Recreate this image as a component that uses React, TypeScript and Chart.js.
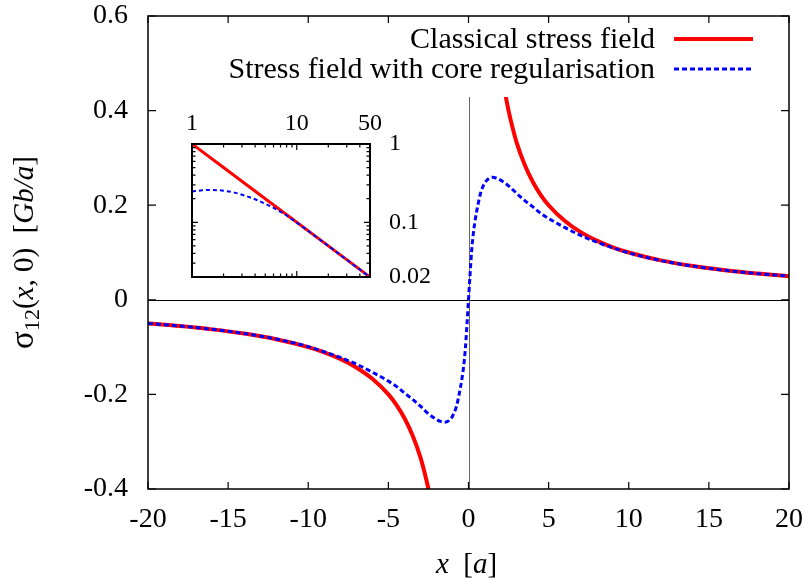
import React, { useEffect, useRef } from 'react';
import { Chart, registerables } from 'chart.js';

Chart.register(...registerables);

// ---------- data ----------
const xTicks = [-20, -15, -10, -5, 0, 5, 10, 15, 20];
const xTickLabels = ['-20', '-15', '-10', '-5', '0', '5', '10', '15', '20'];
const yTicks = [-0.4, -0.2, 0, 0.2, 0.4, 0.6];
const yTickLabels = ['-0.4', '-0.2', '0', '0.2', '0.4', '0.6'];

const classicalX = [-20, -18, -16, -14, -12, -10, -9, -8, -7, -6, -5, -4.5, -4, -3.5, -3, -2.75, -2.5, -2.25, 0,
  1.5, 1.75, 2, 2.25, 2.5, 2.75, 3, 3.5, 4, 4.5, 5, 6, 7, 8, 9, 10, 12, 14, 16, 18, 20];
const classicalY = [-0.05, -0.0556, -0.0625, -0.0714, -0.0833, -0.1, -0.111, -0.125, -0.143, -0.167, -0.2, -0.222, -0.25, -0.286, -0.333, -0.364, -0.4, -0.444, null,
  0.667, 0.571, 0.5, 0.444, 0.4, 0.364, 0.333, 0.286, 0.25, 0.222, 0.2, 0.167, 0.143, 0.125, 0.111, 0.1, 0.0833, 0.0714, 0.0625, 0.0556, 0.05];

const coreX = [-20, -18, -16, -14, -12, -10, -9, -8, -7, -6, -5, -4.5, -4, -3.5, -3, -2.5, -2, -1.75, -1.5, -1.25, -1, -0.75, -0.5, -0.4, -0.3, -0.2, -0.1, 0,
  0.1, 0.2, 0.3, 0.4, 0.5, 0.75, 1, 1.25, 1.5, 1.75, 2, 2.5, 3, 3.5, 4, 4.5, 5, 6, 7, 8, 9, 10, 12, 14, 16, 18, 20];
const coreY = [-0.05, -0.0555, -0.0624, -0.0712, -0.083, -0.099, -0.11, -0.122, -0.136, -0.153, -0.172, -0.183, -0.197, -0.21, -0.225, -0.241, -0.253, -0.257, -0.259, -0.256, -0.246, -0.225, -0.185, -0.165, -0.14, -0.105, -0.055, 0,
  0.055, 0.105, 0.14, 0.165, 0.185, 0.225, 0.246, 0.256, 0.259, 0.257, 0.253, 0.241, 0.225, 0.21, 0.197, 0.183, 0.172, 0.153, 0.136, 0.122, 0.11, 0.099, 0.083, 0.0712, 0.0624, 0.0555, 0.05];

const insetXTicks = [1, 10, 50];
const insetXTickLabels = ['1', '10', '50'];
const insetXMinor = [2, 3, 4, 5, 6, 7, 8, 9, 20, 30, 40];
const insetYTicks = [0.02, 0.1, 1];
const insetYTickLabels = ['0.02', '0.1', '1'];
const insetYMinor = [0.03, 0.04, 0.05, 0.06, 0.07, 0.08, 0.09, 0.2, 0.3, 0.4, 0.5, 0.6, 0.7, 0.8, 0.9];

const insetClassicalX = [1, 2, 5, 10, 20, 50];
const insetClassicalY = [1, 0.5, 0.2, 0.1, 0.05, 0.02];
const insetCoreX = [1, 1.25, 1.5, 1.75, 2, 2.5, 3, 3.5, 4, 5, 6, 7, 8, 10, 12, 14, 16, 20, 25, 30, 40, 50];
const insetCoreY = [0.247, 0.256, 0.259, 0.257, 0.253, 0.241, 0.225, 0.21, 0.197, 0.172, 0.153, 0.136, 0.122, 0.099, 0.083, 0.0712, 0.0624, 0.05, 0.0398, 0.0332, 0.0249, 0.0199];

const legendLabels = ['Classical stress field', 'Stress field with core regularisation'];

// ---------- style ----------
const SERIF = '"Liberation Serif", "Times New Roman", serif';
const RED = '#ff0000';
const BLUE = '#0000ff';

function zip(xs: number[], ys: (number | null)[]) {
  return xs.map((x, i) => ({ x, y: ys[i] }));
}

function noEdgePadding(s: any) {
  s.paddingTop = 0; s.paddingBottom = 0; s.paddingLeft = 0; s.paddingRight = 0;
}

type Run = { t: string; font: string; dy?: number };

function drawRuns(ctx: CanvasRenderingContext2D, runs: Run[], cx: number, baseline: number) {
  let total = 0;
  const widths = runs.map(r => { ctx.font = r.font; const w = ctx.measureText(r.t).width; total += w; return w; });
  let x = cx - total / 2;
  ctx.textAlign = 'left';
  ctx.textBaseline = 'alphabetic';
  runs.forEach((r, i) => {
    ctx.font = r.font;
    ctx.fillText(r.t, x, baseline + (r.dy || 0));
    x += widths[i];
  });
}

const mainDecor = {
  id: 'mainDecor',
  beforeDatasetsDraw(chart: any) {
    const { ctx, chartArea: a, scales } = chart;
    const x = scales.x, y = scales.y;
    ctx.save();
    ctx.lineWidth = 1;
    ctx.strokeStyle = '#000';
    const y0 = Math.round(y.getPixelForValue(0)) + 0.5;
    ctx.beginPath(); ctx.moveTo(a.left, y0); ctx.lineTo(a.right, y0); ctx.stroke();
    const x0 = Math.round(x.getPixelForValue(0)) + 0.5;
    ctx.strokeStyle = '#666';
    ctx.beginPath(); ctx.moveTo(x0, a.top); ctx.lineTo(x0, a.bottom); ctx.stroke();
    ctx.restore();
  },
  afterDatasetsDraw(chart: any) {
    const { ctx, chartArea: a, scales } = chart;
    const x = scales.x, y = scales.y;
    ctx.save();
    // legend box (opaque)
    ctx.fillStyle = '#fff';
    ctx.fillRect(220, a.top, a.right - 220, 97 - a.top);
    ctx.fillStyle = '#000';
    ctx.font = `30px ${SERIF}`;
    ctx.textAlign = 'right';
    ctx.textBaseline = 'alphabetic';
    ctx.fillText(legendLabels[0], 655, 48);
    ctx.fillText(legendLabels[1], 655, 78);
    ctx.lineWidth = 4; ctx.strokeStyle = RED; ctx.setLineDash([]);
    ctx.beginPath(); ctx.moveTo(674, 39); ctx.lineTo(753, 39); ctx.stroke();
    ctx.lineWidth = 3; ctx.strokeStyle = BLUE; ctx.setLineDash([5, 3]);
    ctx.beginPath(); ctx.moveTo(674, 69); ctx.lineTo(753, 69); ctx.stroke();
    ctx.setLineDash([]);

    // frame
    ctx.strokeStyle = '#000';
    ctx.lineWidth = 1.5;
    ctx.strokeRect(a.left, a.top, a.right - a.left, a.bottom - a.top);
    // ticks (inward, mirrored)
    ctx.lineWidth = 1.2;
    ctx.beginPath();
    xTicks.forEach(v => {
      const px = x.getPixelForValue(v);
      ctx.moveTo(px, a.bottom); ctx.lineTo(px, a.bottom - 7);
      ctx.moveTo(px, a.top); ctx.lineTo(px, a.top + 7);
    });
    yTicks.forEach(v => {
      const py = y.getPixelForValue(v);
      ctx.moveTo(a.left, py); ctx.lineTo(a.left + 8, py);
      ctx.moveTo(a.right, py); ctx.lineTo(a.right - 8, py);
    });
    ctx.stroke();

    // axis titles
    ctx.fillStyle = '#000';
    const reg = `29px ${SERIF}`;
    const ital = `italic 29px ${SERIF}`;
    drawRuns(ctx, [
      { t: 'x', font: ital },
      { t: '  [', font: reg },
      { t: 'a', font: ital },
      { t: ']', font: reg },
    ], (a.left + a.right) / 2 - 2, 573);

    ctx.save();
    ctx.translate(33, (a.top + a.bottom) / 2);
    ctx.rotate(-Math.PI / 2);
    drawRuns(ctx, [
      { t: 'σ', font: `33px ${SERIF}` },
      { t: '12', font: `22px ${SERIF}`, dy: 6 },
      { t: '(', font: reg },
      { t: 'x', font: ital },
      { t: ', 0)  [', font: reg },
      { t: 'Gb/a', font: ital },
      { t: ']', font: reg },
    ], 0, 0);
    ctx.restore();
    ctx.restore();
  },
};

const insetDecor = {
  id: 'insetDecor',
  afterDatasetsDraw(chart: any) {
    const { ctx, chartArea: a, scales } = chart;
    const x = scales.x, y = scales.y;
    ctx.save();
    ctx.strokeStyle = '#000';
    ctx.lineWidth = 2;
    ctx.strokeRect(a.left, a.top, a.right - a.left, a.bottom - a.top);
    ctx.lineWidth = 1.2;
    ctx.beginPath();
    const xt = (v: number, len: number) => {
      const px = x.getPixelForValue(v);
      ctx.moveTo(px, a.bottom); ctx.lineTo(px, a.bottom - len);
      ctx.moveTo(px, a.top); ctx.lineTo(px, a.top + len);
    };
    const yt = (v: number, len: number) => {
      const py = y.getPixelForValue(v);
      ctx.moveTo(a.left, py); ctx.lineTo(a.left + len, py);
      ctx.moveTo(a.right, py); ctx.lineTo(a.right - len, py);
    };
    insetXTicks.forEach(v => xt(v, 6));
    insetXMinor.forEach(v => xt(v, 3.5));
    insetYTicks.forEach(v => yt(v, 6));
    insetYMinor.forEach(v => yt(v, 3.5));
    ctx.stroke();
    ctx.restore();
  },
};

export default function App() {
  const mainRef = useRef<HTMLCanvasElement>(null);
  const insetRef = useRef<HTMLCanvasElement>(null);

  useEffect(() => {
    const tickFont = { family: SERIF, size: 28, lineHeight: 1 };
    const main = new Chart(mainRef.current as HTMLCanvasElement, {
      type: 'line',
      data: {
        datasets: [
          {
            label: legendLabels[0],
            data: zip(classicalX, classicalY) as any,
            borderColor: RED,
            borderWidth: 4,
            pointRadius: 0,
            spanGaps: false,
            cubicInterpolationMode: 'monotone',
            order: 2,
          },
          {
            label: legendLabels[1],
            data: zip(coreX, coreY) as any,
            borderColor: BLUE,
            borderWidth: 3,
            borderDash: [5, 3],
            pointRadius: 0,
            cubicInterpolationMode: 'monotone',
            order: 1,
          },
        ],
      },
      options: {
        responsive: false,
        animation: false,
        events: [],
        layout: { padding: { left: 0, right: 23, top: 16, bottom: 0 } },
        plugins: { legend: { display: false }, tooltip: { enabled: false } },
        scales: {
          x: {
            type: 'linear',
            min: -20,
            max: 20,
            afterBuildTicks: (s: any) => { s.ticks = xTicks.map(v => ({ value: v })); },
            afterFit: (s: any) => { s.height = 89; noEdgePadding(s); },
            ticks: {
              font: tickFont,
              color: '#000',
              padding: 17,
              maxRotation: 0,
              autoSkip: false,
              callback: (_v: any, i: number) => xTickLabels[i],
            },
            grid: { display: false, drawTicks: false },
            border: { display: false },
          },
          y: {
            type: 'linear',
            min: -0.4,
            max: 0.6,
            afterBuildTicks: (s: any) => { s.ticks = yTicks.map(v => ({ value: v })); },
            afterFit: (s: any) => { s.width = 148; noEdgePadding(s); },
            ticks: {
              font: tickFont,
              color: '#000',
              padding: 20,
              autoSkip: false,
              callback: (_v: any, i: number) => yTickLabels[i],
            },
            grid: { display: false, drawTicks: false },
            border: { display: false },
          },
        },
      },
      plugins: [mainDecor],
    });

    const insetFont = { family: SERIF, size: 24, lineHeight: 1 };
    const inset = new Chart(insetRef.current as HTMLCanvasElement, {
      type: 'line',
      data: {
        datasets: [
          {
            data: zip(insetClassicalX, insetClassicalY) as any,
            borderColor: RED,
            borderWidth: 3,
            pointRadius: 0,
            order: 2,
          },
          {
            data: zip(insetCoreX, insetCoreY) as any,
            borderColor: BLUE,
            borderWidth: 2,
            borderDash: [4, 3],
            pointRadius: 0,
            cubicInterpolationMode: 'monotone',
            order: 1,
          },
        ],
      },
      options: {
        responsive: false,
        animation: false,
        events: [],
        layout: { padding: { left: 32, right: 0, top: 0, bottom: 18 } },
        plugins: { legend: { display: false }, tooltip: { enabled: false } },
        scales: {
          x: {
            type: 'logarithmic',
            position: 'top',
            min: 1,
            max: 50,
            afterBuildTicks: (s: any) => { s.ticks = insetXTicks.map(v => ({ value: v })); },
            afterFit: (s: any) => { s.height = 49; noEdgePadding(s); },
            ticks: {
              font: insetFont,
              color: '#000',
              padding: 8,
              maxRotation: 0,
              autoSkip: false,
              callback: (_v: any, i: number) => insetXTickLabels[i],
            },
            grid: { display: false, drawTicks: false },
            border: { display: false },
          },
          y: {
            type: 'logarithmic',
            position: 'right',
            min: 0.02,
            max: 1,
            afterBuildTicks: (s: any) => { s.ticks = insetYTicks.map(v => ({ value: v })); },
            afterFit: (s: any) => { s.width = 70; noEdgePadding(s); },
            ticks: {
              font: insetFont,
              color: '#000',
              padding: 19,
              autoSkip: false,
              callback: (_v: any, i: number) => insetYTickLabels[i],
            },
            grid: { display: false, drawTicks: false },
            border: { display: false },
          },
        },
      },
      plugins: [insetDecor],
    });

    return () => { main.destroy(); inset.destroy(); };
  }, []);

  return (
    <div style={{ position: 'absolute', left: 0, top: 0, width: 812, height: 578, background: '#fff' }}>
      <canvas ref={mainRef} width={812} height={578} style={{ position: 'absolute', left: 0, top: 0, width: 812, height: 578 }} />
      <canvas ref={insetRef} width={280} height={200} style={{ position: 'absolute', left: 160, top: 95, width: 280, height: 200 }} />
    </div>
  );
}
